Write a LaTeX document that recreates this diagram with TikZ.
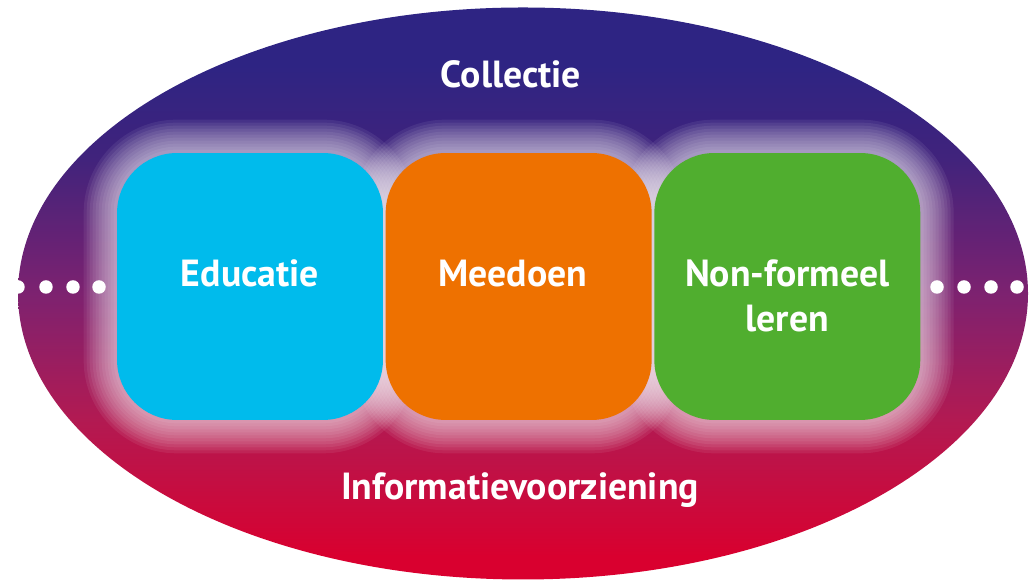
\documentclass[tikz,border=0pt]{standalone}
\usepackage{fontspec}
\setmainfont{PT Sans}
\usetikzlibrary{positioning,calc}
\definecolor{ovalblue}{HTML}{2E2483}
\definecolor{ovalviolet}{HTML}{40237C}
\definecolor{ovalpurple}{HTML}{7D2270}
\definecolor{ovalrose}{HTML}{B21A52}
\definecolor{ovalred}{HTML}{D9002F}
\definecolor{educblue}{HTML}{00BBEC}
\definecolor{meeorange}{HTML}{EE7100}
\definecolor{nfgreen}{HTML}{50AE2F}
\pgfdeclarelayer{oval}
\pgfdeclarelayer{glow}
\pgfsetlayers{oval,glow,main}
\pgfdeclareverticalshading{ovalshade}{100bp}{color(0bp)=(ovalred); color(27bp)=(ovalred);
  color(39bp)=(ovalrose); color(50bp)=(ovalpurple); color(62bp)=(ovalviolet);
  color(70bp)=(ovalblue); color(100bp)=(ovalblue)}
\begin{document}
\begin{tikzpicture}[x=0.02cm, y=0.02cm,
% common options for the three blocks:
block/.style = {rounded corners=1.2cm, minimum width=5.32cm, minimum height=5.34cm, inner sep=0},
% common options for the white texts:
lbl/.style = {text=white, font=\bfseries\fontsize{21.5}{25.5}\selectfont, align=center, inner sep=0},
% common options for the dots:
dot/.style = {circle, fill=white, minimum size=0.27cm, inner sep=0}]
\useasboundingbox (0,0) rectangle (1034,580);
\begin{pgfonlayer}{oval}
\shade[shading=ovalshade] (523,286.5) ellipse [x radius=505, y radius=286];
\end{pgfonlayer}
\node[block, fill=educblue] (educ) at (250,293.5) {};
\node[block, fill=meeorange, right=0.04cm of educ] (mee) {};
\node[block, fill=nfgreen, right=0.04cm of mee] (nf) {};
% glow round the blocks
\begin{pgfonlayer}{glow}
\foreach \n in {educ,mee,nf}
  \foreach \g in {33,30,...,3} {
    \pgfmathsetmacro\rc{1.2+0.02*\g}
    \fill[white, opacity=0.07, rounded corners=\rc cm] ($(\n.south west)+(-\g,-\g)$) rectangle ($(\n.north east)+(\g,\g)$);
  }
\end{pgfonlayer}
\node[lbl, anchor=base] (educ-t) at (educ.center) {Educatie};
\node[lbl, anchor=base] (mee-t) at ([xshift=-0.12cm]mee.center) {Meedoen};
\node[lbl, anchor=base] (nf-t) at ([yshift=-0.9cm]nf.center) {Non-formeel\\leren};
\node[lbl, anchor=base] (coll) at (511,492) {Collectie};
\node[lbl, anchor=base] (info) at (520,80) {Informatievoorziening};
\foreach \x in {18,46,73,99} \node[dot] (dl\x) at (\x,293) {};
\foreach \x in {937,964,991,1017} \node[dot] (dr\x) at (\x,293) {};
\end{tikzpicture}
\end{document}
